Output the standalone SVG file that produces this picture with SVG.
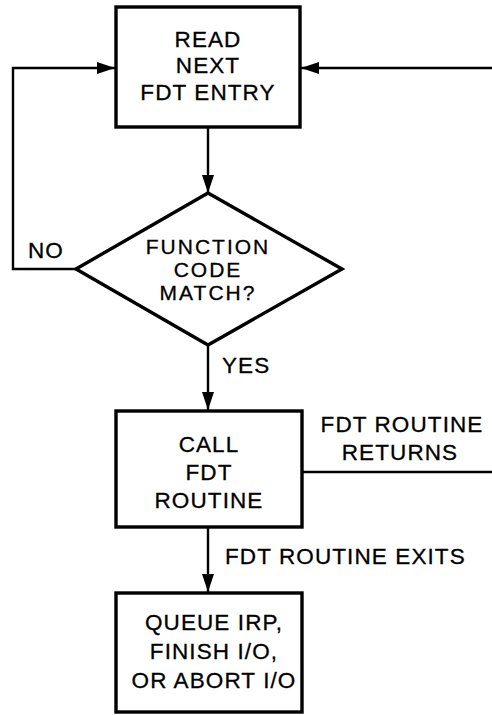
<svg xmlns="http://www.w3.org/2000/svg" width="492" height="715" viewBox="0 0 492 715">
  <style>
    .box { fill: #fff; stroke: #000; stroke-width: 3.4; }
    .line { fill: none; stroke: #000; stroke-width: 2.4; }
    text { font-family: "Liberation Sans", Arial, sans-serif; font-size: 22.5px; letter-spacing: 1.1px; fill: #000; stroke: #000; stroke-width: 0.3; }
    .c { text-anchor: middle; }
    .dec { font-size: 21px; letter-spacing: 2px; }
  </style>
  <defs>
    <marker id="arrow" markerUnits="userSpaceOnUse" markerWidth="19" markerHeight="13" refX="18" refY="6" orient="auto">
      <path d="M0,0 L18,6 L0,12 z" fill="#000"/>
    </marker>
  </defs>

  <rect width="492" height="715" fill="#fff"/>

  <!-- connectors -->
  <g id="connectors">
    <path class="line" d="M208,127 L208,193" marker-end="url(#arrow)"/>
    <path class="line" d="M76,269 L13,269 L13,68 L115,68" marker-end="url(#arrow)"/>
    <path class="line" d="M492,68 L301,68" marker-end="url(#arrow)"/>
    <path class="line" d="M208,345 L208,410" marker-end="url(#arrow)"/>
    <path class="line" d="M302,472 L492,472"/>
    <path class="line" d="M208,527 L208,592" marker-end="url(#arrow)"/>
    <text x="28" y="258">NO</text>
    <text x="222" y="373">YES</text>
    <text class="c" x="402" y="432">FDT ROUTINE</text>
    <text class="c" x="400" y="460">RETURNS</text>
    <text x="225" y="564" letter-spacing="0.9">FDT ROUTINE EXITS</text>
  </g>

  <!-- read next entry -->
  <g id="read-entry">
    <rect class="box" x="116" y="7" width="184" height="120"/>
    <text class="c" x="208" y="47">READ</text>
    <text class="c" x="208" y="73">NEXT</text>
    <text class="c" x="208" y="100" letter-spacing="1.6">FDT ENTRY</text>
  </g>

  <!-- decision -->
  <g id="match-decision">
    <polygon class="box" points="208,193 342,269 208,345 76,269"/>
    <text class="c dec" x="208" y="254">FUNCTION</text>
    <text class="c dec" x="208" y="277">CODE</text>
    <text class="c dec" x="208" y="300">MATCH?</text>
  </g>

  <!-- call routine -->
  <g id="call-routine">
    <rect class="box" x="116" y="411" width="186" height="116"/>
    <text class="c" x="209" y="452">CALL</text>
    <text class="c" x="209" y="480">FDT</text>
    <text class="c" x="209" y="508">ROUTINE</text>
  </g>

  <!-- final actions -->
  <g id="finish-io">
    <rect class="box" x="116" y="593" width="186" height="119"/>
    <text class="c" x="214" y="630">QUEUE IRP,</text>
    <text class="c" x="214" y="659">FINISH I/O,</text>
    <text class="c" x="214" y="688" letter-spacing="1.35">OR ABORT I/O</text>
  </g>
</svg>
